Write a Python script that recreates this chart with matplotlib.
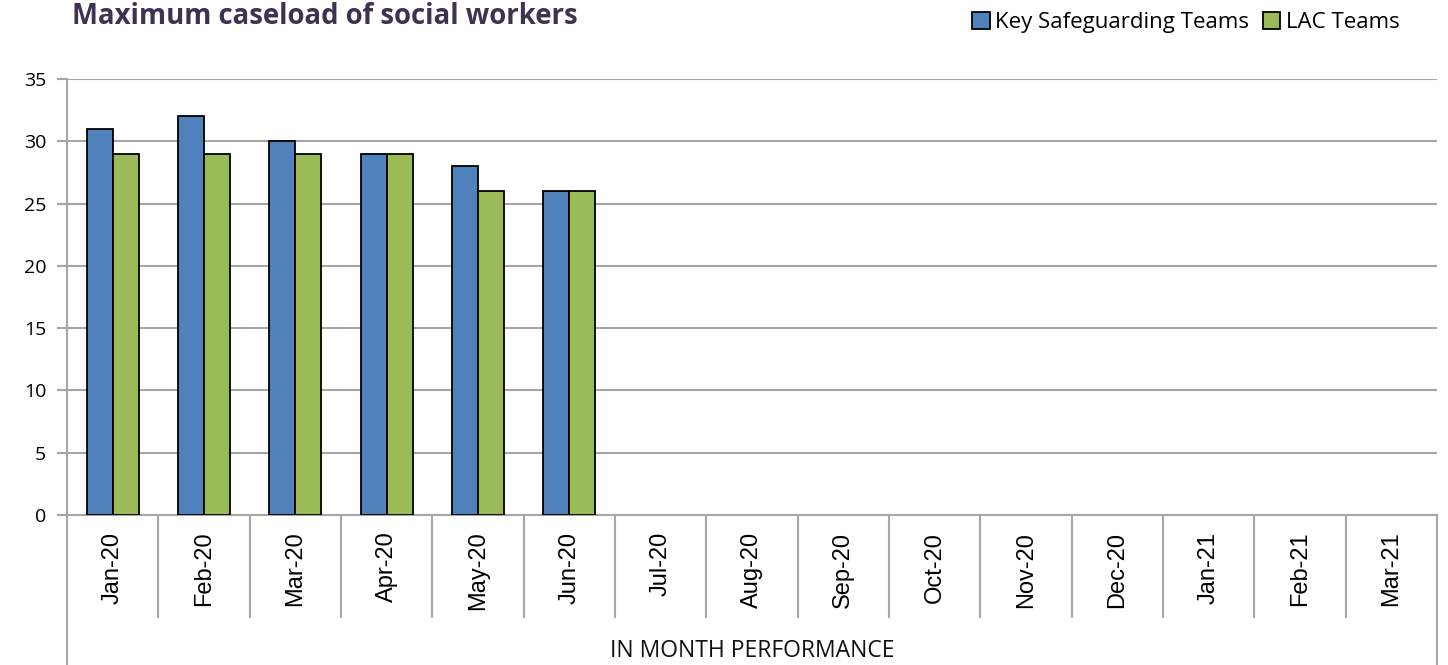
import numpy as np
import matplotlib
matplotlib.use("Agg")
import matplotlib.pyplot as plt
import matplotlib.transforms as mtransforms

months = ["Jan-20", "Feb-20", "Mar-20", "Apr-20", "May-20", "Jun-20", "Jul-20", "Aug-20",
          "Sep-20", "Oct-20", "Nov-20", "Dec-20", "Jan-21", "Feb-21", "Mar-21"]
key_safeguarding = [31, 32, 30, 29, 28, 26, np.nan, np.nan, np.nan, np.nan, np.nan, np.nan, np.nan, np.nan, np.nan]
lac_teams = [29, 29, 29, 29, 26, 26, np.nan, np.nan, np.nan, np.nan, np.nan, np.nan, np.nan, np.nan, np.nan]

blue = "#4F81BD"
green = "#9BBB59"
grid_col = "#A6A6A6"

fig = plt.figure(figsize=(14.48, 6.65), dpi=100)
ax = fig.add_axes([67/1448, 1-515/665, (1437-67)/1448, (515-79)/665])

x = np.arange(len(months))
w = 0.285
ax.bar(x - w/2, key_safeguarding, w, color=blue, edgecolor="black", linewidth=1.3, label="Key Safeguarding Teams", zorder=3)
ax.bar(x + w/2, lac_teams, w, color=green, edgecolor="black", linewidth=1.3, label="LAC Teams", zorder=3)

ax.set_xlim(-0.5, len(months) - 0.5)
ax.set_ylim(0, 35)
ax.set_yticks(np.arange(0, 36, 5))
ax.yaxis.grid(True, color=grid_col, linewidth=1.5, zorder=0)
for s in ["top", "right"]:
    ax.spines[s].set_visible(False)
ax.spines["left"].set_visible(False)
ax.spines["bottom"].set_color(grid_col)
ax.spines["bottom"].set_linewidth(1.5)
ax.tick_params(axis="y", length=7, width=1.5, color=grid_col, labelsize=14, pad=8)
for t in ax.get_yticklabels():
    t.set_fontfamily("Open Sans")
ax.set_xticks(x)
ax.set_xticklabels(months, rotation=90, fontsize=17, fontfamily="Liberation Sans")
ax.tick_params(axis="x", length=0, pad=12)

trans = mtransforms.blended_transform_factory(ax.transData, ax.transAxes)
for b in np.arange(-0.5, len(months), 1.0):
    bottom = -0.345 if b in (-0.5, len(months) - 0.5) else -0.234
    top = 1.0 if b == -0.5 else 0.0
    ax.plot([b, b], [bottom, top], transform=trans, color=grid_col, linewidth=1.5, clip_on=False, zorder=1)

ax.text(0.5, -0.312, "IN MONTH PERFORMANCE", transform=ax.transAxes, ha="center", va="center",
        fontsize=16.5, fontfamily="Open Sans", color="#111111")

fig.text(72/1448, 1-16/665, "Maximum caseload of social workers", ha="left", va="center",
         fontsize=19.8, fontweight="bold", fontfamily="Open Sans", color="#3F3151")

leg = fig.legend(loc="upper right", bbox_to_anchor=(1412/1448, 1.0), ncol=2, frameon=False,
                 prop={"family": "Open Sans", "size": 16}, handlelength=0.8, handleheight=0.8,
                 handletextpad=0.25, columnspacing=0.6, borderaxespad=0.15)

fig.savefig("out.png", dpi=100)
